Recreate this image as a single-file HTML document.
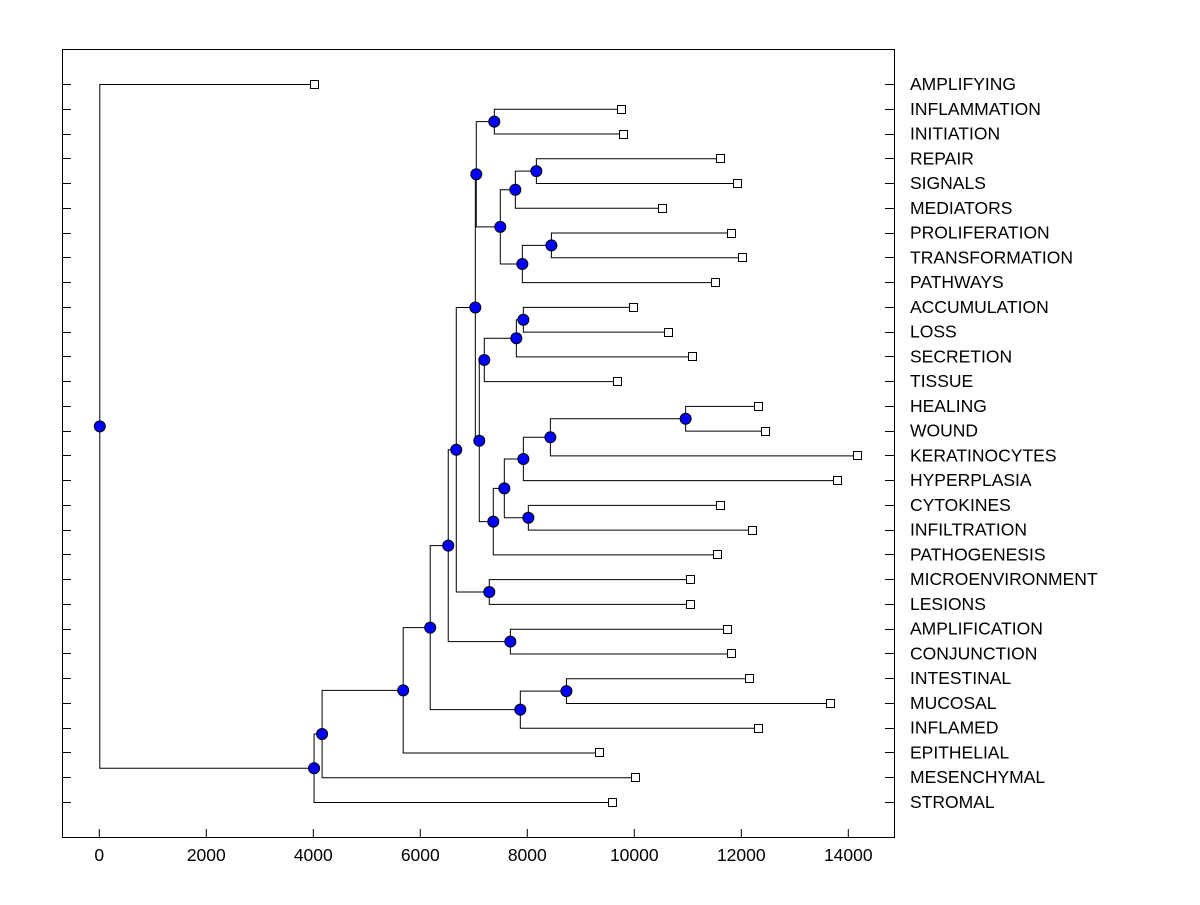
<!DOCTYPE html>
<html><head><meta charset="utf-8"><style>
body{margin:0;background:#fff}
svg text{font-family:"Liberation Sans",Arial,sans-serif;font-size:17.5px;fill:#000}
</style></head><body>
<svg id="chart" width="1200" height="900" xmlns="http://www.w3.org/2000/svg">
<rect x="62.5" y="49.5" width="832" height="788" fill="none" stroke="#000" stroke-width="1"/>
<g id="ticks"></g><g id="links"></g><g id="marks"></g><g id="labels"></g>
</svg>
<script>
const leafNames=["AMPLIFYING","INFLAMMATION","INITIATION","REPAIR","SIGNALS","MEDIATORS","PROLIFERATION","TRANSFORMATION","PATHWAYS","ACCUMULATION","LOSS","SECRETION","TISSUE","HEALING","WOUND","KERATINOCYTES","HYPERPLASIA","CYTOKINES","INFILTRATION","PATHOGENESIS","MICROENVIRONMENT","LESIONS","AMPLIFICATION","CONJUNCTION","INTESTINAL","MUCOSAL","INFLAMED","EPITHELIAL","MESENCHYMAL","STROMAL"];
const leafValues=[4005,9750,9790,11600,11920,10520,11810,12015,11510,9975,10630,11080,9675,12315,12445,14170,13795,11600,12200,11550,11040,11040,11735,11810,12145,13660,12315,9340,10010,9580];
const mergeLeft=["INFLAMMATION","REPAIR","n1","PROLIFERATION","n3","n2","n0","ACCUMULATION","n7","n8","HEALING","n10","n11","CYTOKINES","n12","n14","n9","n6","MICROENVIRONMENT","n17","AMPLIFICATION","n19","INTESTINAL","n22","n21","n24","n25","n26","AMPLIFYING"];
const mergeRight=["INITIATION","SIGNALS","MEDIATORS","TRANSFORMATION","PATHWAYS","n4","n5","LOSS","SECRETION","TISSUE","WOUND","KERATINOCYTES","HYPERPLASIA","INFILTRATION","n13","PATHOGENESIS","n15","n16","LESIONS","n18","CONJUNCTION","n20","MUCOSAL","INFLAMED","n23","EPITHELIAL","MESENCHYMAL","STROMAL","n27"];
const mergeHeights=[7374,8160,7767,8441,7898,7486,7037,7917,7786,7187,10950,8422,7917,8010,7561,7355,7093,7019,7280,6663,7674,6513,8722,7860,6176,5671,4155,4005,0];
const xTicks=[0,2000,4000,6000,8000,10000,12000,14000];

const NS="http://www.w3.org/2000/svg";
const X=v=>99.3+v*0.0535;
const Y=i=>84+i*(718/29);
function el(t,a,p){const e=document.createElementNS(NS,t);for(const k in a)e.setAttribute(k,a[k]);document.getElementById(p).appendChild(e);return e;}
xTicks.forEach(t=>{
 const l=el('line',{x1:X(t),x2:X(t),y1:838,y2:829,stroke:'#000'},'ticks');
 
 
 const tx=el('text',{x:X(t),y:861,'text-anchor':'middle'},'labels');tx.textContent=t;
 
 
});
leafNames.forEach((n,i)=>{
 const y=Math.round(Y(i))+0.5;
 const a=el('line',{x1:62,x2:71,y1:y,y2:y,stroke:'#000'},'ticks');
 
 
 const b=el('line',{x1:885,x2:894,y1:y,y2:y,stroke:'#000'},'ticks');
 
 
 const t=el('text',{x:910,y:Y(i)+6},'labels');t.textContent=n;
 
 
});
const pos={};
leafNames.forEach((n,i)=>pos[n]={x:X(leafValues[i]),y:Y(i),leaf:true});
mergeHeights.forEach((h,k)=>{
 const a=pos[mergeLeft[k]],b=pos[mergeRight[k]];
 const x=X(h),y=(a.y+b.y)/2;
 pos['n'+k]={x,y,leaf:false};
 const p=el('path',{d:`M${a.x},${a.y+0.5}H${x+0.5}V${b.y+0.5}H${b.x}`,fill:'none',stroke:'#000','stroke-width':1},'links');
 
 
});
leafNames.forEach(n=>{
 const p=pos[n];
 const r=el('rect',{x:Math.round(p.x)-4+0.5,y:Math.round(p.y)-4+0.5,width:8,height:8,fill:'#fff',stroke:'#000'},'marks');
 
 
});
mergeHeights.forEach((h,k)=>{
 const p=pos['n'+k];
 const c=el('circle',{cx:p.x+0.5,cy:p.y+0.5,r:5.5,fill:'#0000ff',stroke:'#000','stroke-width':1},'marks');
 
 
});
</script>
</body></html>
